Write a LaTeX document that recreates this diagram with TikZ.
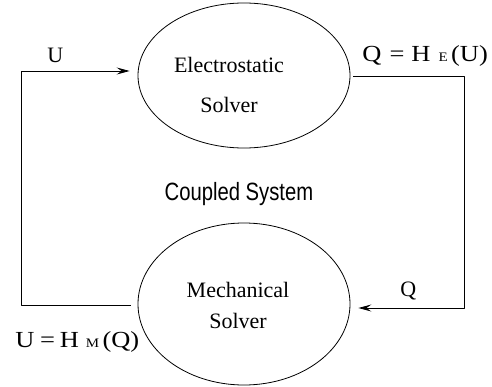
\documentclass[tikz,border=0pt]{standalone}
\usepackage{fontspec}
\setmainfont{Liberation Serif}
\setsansfont{Liberation Sans}
\usetikzlibrary{shapes.geometric,arrows.meta}
\begin{document}
\begin{tikzpicture}[x=1pt,y=-1pt,line width=0.8pt,line join=round,>={Stealth[length=13pt,width=7pt,inset=5pt]},font=\fontsize{22}{26}\selectfont]
\tikzset{solver/.style={draw,ellipse,minimum width=212pt,inner sep=0pt},
  solvertext/.style={align=center,inner sep=0pt},
  lbl/.style={anchor=base west,inner sep=0pt,font=\fontsize{23}{26}\selectfont}}
\newcommand\smallcap[1]{{\fontsize{13}{13}\selectfont #1}}
\useasboundingbox (0,0) rectangle (492,387);
\node[solver,minimum height=145pt] (elec) at (244,75.5) {};
\node[solver,minimum height=162pt] (mech) at (244,304) {};
\node[solvertext] (elect) at (229,84.5) {Electrostatic\\[14pt]Solver};
\node[solvertext] (mecht) at (238,305) {Mechanical\\[5pt]Solver};
\node[font=\sffamily\fontsize{25}{30}\selectfont,inner sep=0pt] (cs) at (239,194) {\scalebox{0.81}[1]{Coupled System}};
\coordinate (tl) at (21,71);
\coordinate (bl) at (21,305);
\coordinate (tr) at (464,76);
\coordinate (br) at (464,308);
\draw[->,shorten <=7pt,shorten >=8pt] (mech.west|-bl)--(bl)--(tl)--(elec.west|-tl);
\draw[->,shorten <=3pt,shorten >=8pt] (elec.east|-tr)--(tr)--(br)--(mech.east|-br);
\node[lbl,font=\fontsize{22}{26}\selectfont] (u) at (47,63) {U};
\node[lbl] (qe) at (362,62) {\scalebox{1.15}[1]{Q\hspace{7pt}=\hspace{6pt}H\hspace{7pt}\smallcap{E}\hspace{3pt}(U)}};
\node[lbl,font=\fontsize{22}{26}\selectfont] (q) at (400,296) {Q};
\node[lbl] (um) at (15,347) {\scalebox{1.15}[1]{U\hspace{5pt}=\hspace{4pt}H\hspace{6pt}\smallcap{M}\hspace{3pt}(Q)}};
\end{tikzpicture}
\end{document}
